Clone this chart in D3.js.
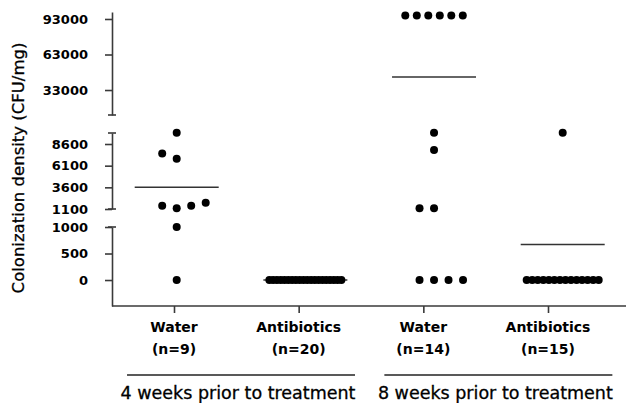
<!DOCTYPE html>
<html><head><meta charset="utf-8">
<script src="https://cdn.jsdelivr.net/npm/d3@7"></script>
<style>body{margin:0;background:#fff}svg{display:block}</style>
</head><body>
<svg id="c" width="641" height="403"></svg>
<script>
// ---------- data ----------
const categories = ["Water 4w", "Antibiotics 4w", "Water 8w", "Antibiotics 8w"];
const categoryNames = ["Water", "Antibiotics", "Water", "Antibiotics"];
const categoryCounts = ["(n=9)", "(n=20)", "(n=14)", "(n=15)"];
const timeGroups = ["4 weeks prior to treatment", "8 weeks prior to treatment"];
const water4 = [0, 1000, 1200, 1480, 1480, 1830, 6900, 7500, 9900];
const antibiotics4 = [0, 0, 0, 0, 0, 0, 0, 0, 0, 0, 0, 0, 0, 0, 0, 0, 0, 0, 0, 0];
const water8 = [0, 0, 0, 0, 1200, 1200, 7900, 9900, 96000, 96000, 96000, 96000, 96000, 96000];
const antibiotics8 = [0, 0, 0, 0, 0, 0, 0, 0, 0, 0, 0, 0, 0, 0, 9900];
const meanValues = [3600, 0, 44000, 670];
const topTicks = [93000, 63000, 33000];
const midTicks = [8600, 6100, 3600, 1100];
const lowTicks = [1000, 500, 0];

const series = [water4, antibiotics4, water8, antibiotics8];

// ---------- layout ----------
const svg = d3.select("#c");
const axisX = 112, axisRight = 626, axisBottomY = 306;

const yTop = d3.scaleLinear().domain([11900, 98900]).range([115, 12]);
const yMid = d3.scaleLinear().domain([1100, 9870]).range([209, 133]);
const yLow = d3.scaleLinear().domain([-490, 1000]).range([306, 227]);
function y(v) { return v >= 11000 ? yTop(v) : (v >= 1100 ? yMid(v) : yLow(v)); }

const xTick = d3.scalePoint().domain(categories).range([174, 548]);
const xDot = d3.scalePoint().domain(categories).range([176.7, 562.7]);

const axisColor = "#3a3a3a";
const tickFont = "DejaVu Sans, sans-serif";

// y axes (three broken segments)
[[yTop, topTicks], [yMid, midTicks], [yLow, lowTicks]].forEach(([sc, tv]) => {
  const g = svg.append("g").attr("transform", `translate(${axisX},0)`)
    .call(d3.axisLeft(sc).tickValues(tv).tickSize(7).tickSizeOuter(0).tickPadding(17)
      .tickFormat(d3.format("d")));
  g.select(".domain").attr("stroke", axisColor).attr("stroke-width", 1.6);
  g.selectAll(".tick line").attr("stroke", axisColor).attr("stroke-width", 1.6);
  g.selectAll(".tick text").attr("font-family", tickFont).attr("font-weight", "bold")
    .attr("font-size", 13).attr("fill", "#000");
});
// break caps
[yTop.range()[0], yMid.range()[1], yMid.range()[0], yLow.range()[1]].forEach(cy => {
  svg.append("line").attr("x1", axisX - 4).attr("x2", axisX + 4).attr("y1", cy).attr("y2", cy)
    .attr("stroke", axisColor).attr("stroke-width", 1.6);
});

// x axis
const gx = svg.append("g").attr("transform", `translate(0,${axisBottomY})`)
  .call(d3.axisBottom(xTick).tickSize(7).tickSizeOuter(0).tickFormat(""));
gx.select(".domain").attr("d", `M${axisX},0H${axisRight}`).attr("stroke", axisColor).attr("stroke-width", 1.6);
gx.selectAll(".tick line").attr("stroke", axisColor).attr("stroke-width", 1.6);

// category labels
categories.forEach((c, i) => {
  const t = svg.append("text").attr("text-anchor", "middle").attr("font-family", tickFont)
    .attr("font-weight", "bold").attr("font-size", 14).attr("fill", "#000");
  t.append("tspan").attr("x", xTick(c)).attr("y", 332).text(categoryNames[i]);
  t.append("tspan").attr("x", xTick(c)).attr("y", 354).text(categoryCounts[i]);
});

// time groups
timeGroups.forEach((g, i) => {
  const cx = (xDot(categories[2 * i]) + xDot(categories[2 * i + 1])) / 2;
  svg.append("line").attr("x1", cx - 114).attr("x2", cx + 114).attr("y1", 375).attr("y2", 375)
    .attr("stroke", "#222").attr("stroke-width", 1.6);
  svg.append("text").attr("x", cx - 3).attr("y", 399).attr("text-anchor", "middle")
    .attr("font-family", tickFont).attr("font-size", 17.5).attr("fill", "#000")
    .attr("stroke", "#000").attr("stroke-width", 0.3).text(g);
});

// y title
svg.append("text").attr("transform", "translate(24,168) rotate(-90)").attr("text-anchor", "middle")
  .attr("font-family", tickFont).attr("font-size", 16.5).attr("fill", "#000")
  .attr("stroke", "#000").attr("stroke-width", 0.3)
  .text("Colonization density (CFU/mg)");

// mean lines
meanValues.forEach((m, i) => {
  const cx = xDot(categories[i]);
  svg.append("line").attr("x1", cx - 42).attr("x2", cx + 42).attr("y1", y(m)).attr("y2", y(m))
    .attr("stroke", "#333").attr("stroke-width", 1.5);
});

// dots (simple dodge by rows)
const r = 4;
const slotOrder = [0, -1, 1, 2, -2, 3, -3, 4, -4, 5, -5, 6, -6, 7, -7, 8, -8, 9, -9, 10, -10];
series.forEach((vals, i) => {
  const cx = xDot(categories[i]);
  const sorted = vals.slice().sort((a, b) => a - b);
  const rows = [];
  sorted.forEach(v => {
    const last = rows[rows.length - 1];
    if (last && Math.abs(y(v) - y(last[last.length - 1])) < 2 * r + 1) last.push(v);
    else rows.push([v]);
  });
  rows.forEach(row => {
    const n = row.length;
    const sp = n > 1 ? Math.min(n > 4 ? 11.5 : 14.5, 72 / (n - 1)) : 0;
    const slots = row.map((v, k) => slotOrder[k]);
    const mid = (d3.min(slots) + d3.max(slots)) / 2;
    const shift = n > 4 ? mid : 0;
    svg.selectAll(null).data(row.map((v, k) => ({ v, s: slots[k] }))).enter().append("circle")
      .attr("cx", d => cx + (d.s - shift) * sp).attr("cy", d => y(d.v)).attr("r", r).attr("fill", "#000");
  });
});
</script>
</body></html>
